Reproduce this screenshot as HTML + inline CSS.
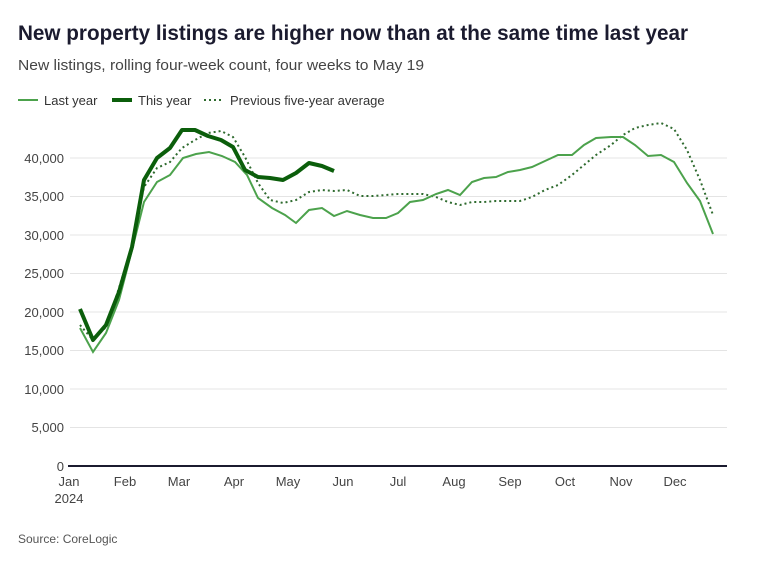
<!DOCTYPE html>
<html><head><meta charset="utf-8"><style>
body{margin:0;background:#fff;font-family:"Liberation Sans",sans-serif;}
</style></head><body>
<svg width="768" height="559" xmlns="http://www.w3.org/2000/svg" font-family="Liberation Sans, sans-serif">
<text x="18" y="40" font-size="21" font-weight="bold" fill="#1b1b2f" textLength="670" lengthAdjust="spacingAndGlyphs">New property listings are higher now than at the same time last year</text>
<text x="18" y="70" font-size="15" fill="#444" textLength="406" lengthAdjust="spacingAndGlyphs">New listings, rolling four-week count, four weeks to May 19</text>
<line x1="18" y1="100" x2="38" y2="100" stroke="#4ca24c" stroke-width="2"/>
<text x="44" y="105" font-size="13" fill="#333">Last year</text>
<line x1="112" y1="100" x2="132" y2="100" stroke="#0b5e0b" stroke-width="4"/>
<text x="138" y="105" font-size="13" fill="#333">This year</text>
<line x1="204" y1="100" x2="224" y2="100" stroke="#2f6b2f" stroke-width="2" stroke-dasharray="2,3"/>
<text x="230" y="105" font-size="13" fill="#333">Previous five-year average</text>
<g stroke="#e4e4e4" stroke-width="1">
<line x1="70" y1="158" x2="727" y2="158"/><line x1="70" y1="196.5" x2="727" y2="196.5"/><line x1="70" y1="235" x2="727" y2="235"/><line x1="70" y1="273.5" x2="727" y2="273.5"/><line x1="70" y1="312" x2="727" y2="312"/><line x1="70" y1="350.5" x2="727" y2="350.5"/><line x1="70" y1="389" x2="727" y2="389"/><line x1="70" y1="427.5" x2="727" y2="427.5"/>
</g>
<g font-size="13" fill="#444" text-anchor="end">
<text x="64" y="163">40,000</text><text x="64" y="201">35,000</text><text x="64" y="240">30,000</text><text x="64" y="278">25,000</text><text x="64" y="317">20,000</text><text x="64" y="355">15,000</text><text x="64" y="394">10,000</text><text x="64" y="432">5,000</text><text x="64" y="471">0</text>
</g>
<line x1="68" y1="466" x2="727" y2="466" stroke="#1b1b2f" stroke-width="2"/>
<g font-size="13" fill="#444" text-anchor="middle">
<text x="69" y="486">Jan</text><text x="69" y="503">2024</text><text x="125" y="486">Feb</text><text x="179" y="486">Mar</text><text x="234" y="486">Apr</text><text x="288" y="486">May</text><text x="343" y="486">Jun</text><text x="398" y="486">Jul</text><text x="454" y="486">Aug</text><text x="510" y="486">Sep</text><text x="565" y="486">Oct</text><text x="621" y="486">Nov</text><text x="675" y="486">Dec</text>
</g>
<polyline fill="none" stroke="#2f6b2f" stroke-width="2" stroke-dasharray="2,3" points="80,325 93,340 106,327 119,288 132,245 144,187 157,168 170,162 182,148 195,140 208,133 221,131 233,137 245,157 258,183 270,200 283,203 296,200 309,192 322,190 334,191 347,190 360,196 373,196 386,195 398,194 410,194 423,194 436,197 448,202 460,205 472,202 484,202 496,201 508,201 520,201 532,197 545,190 558,185 572,175 584,165 596,155 611,145 623,135 635,128 648,125 661,123 674,129 687,150 700,180 713,215"/>
<polyline fill="none" stroke="#4ca24c" stroke-width="2" points="80,328 93,352 106,333 119,300 132,250 144,202 157,182 170,175 183,158 196,154 209,152 222,156 235,162 247,175 258,198 272,208 285,215 296,223 309,210 322,208 334,216 347,211 360,215 373,218 386,218 398,213 410,202 423,200 436,194 448,190 460,195 472,182 484,178 496,177 508,172 520,170 532,167 545,161 558,155 572,155 584,145 596,138 611,137 623,137 635,145 648,156 661,155 674,162 687,183 700,201 713,234"/>
<polyline fill="none" stroke="#0b5e0b" stroke-width="4" stroke-linejoin="round" points="80,309 93,340 106,325 119,292 132,247 144,180 157,158 170,148 182,130 195,130 208,136 221,140 233,147 245,170 258,177 270,178 283,180 296,173 309,163 322,166 334,171"/>
<text x="18" y="543" font-size="12" fill="#555">Source: CoreLogic</text>
</svg>
</body></html>
